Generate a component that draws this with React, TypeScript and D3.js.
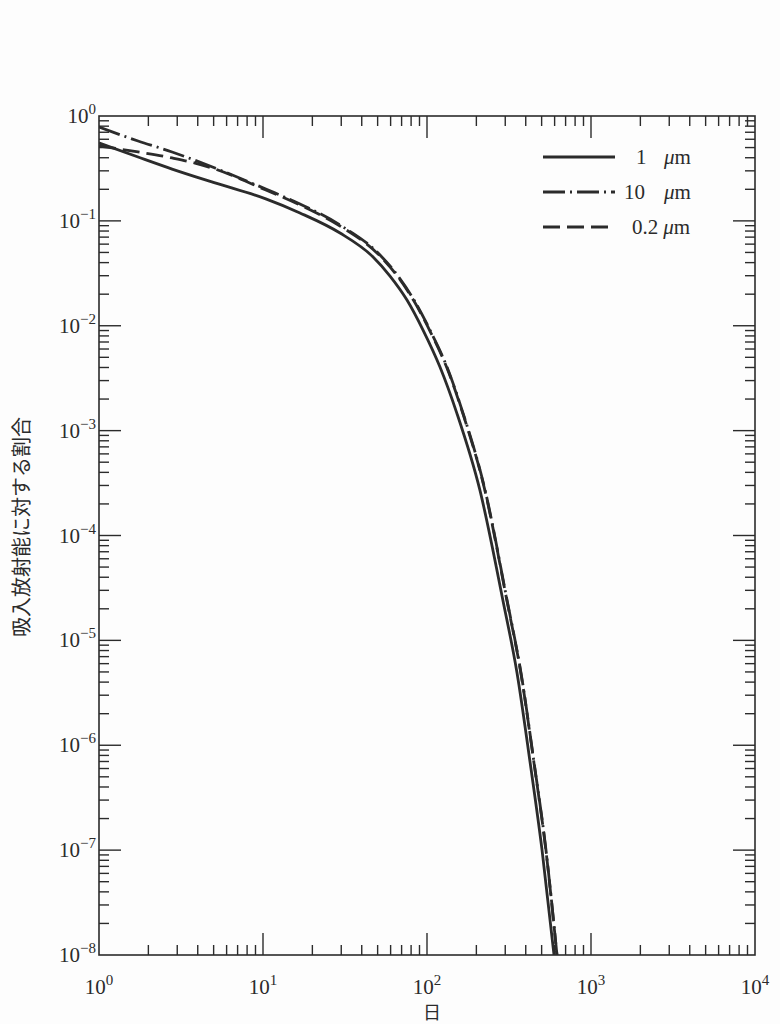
import React, { useRef, useEffect } from "react";
import * as d3 from "d3";

// days after inhalation vs fraction of inhaled activity
const days1um = [1, 1.73, 2.79, 5.1, 10.4, 16.8, 29.5, 46.9, 59.5, 75.5, 94.6, 120, 152, 210, 290, 354, 425, 503, 595];
const frac1um = [0.553, 0.406, 0.312, 0.23, 0.162, 0.119, 0.0766, 0.0453, 0.0298, 0.0176, 0.0091, 0.00404, 0.00147, 2.72e-4, 2.43e-5, 4.89e-6, 6.9e-7, 1.0e-7, 1e-8];

const days10um = [1, 1.73, 2.79, 5.1, 10.4, 16.8, 29.5, 51.7, 66.6, 83.3, 104.3, 132.4, 165.8, 225.8, 307.5, 374.3, 449.2, 531.6, 620];
const frac10um = [0.785, 0.578, 0.454, 0.319, 0.201, 0.145, 0.0913, 0.0473, 0.0298, 0.0176, 0.0091, 0.00404, 0.00147, 2.72e-4, 2.43e-5, 4.89e-6, 6.9e-7, 1.0e-7, 1e-8];

const days02um = [1, 1.73, 2.79, 3.85, 5.1, 10.4, 16.8, 29.5, 51.7, 66.6, 83.3, 104.3, 132.4, 165.8, 225.8, 307.5, 374.3, 449.2, 531.6, 620];
const frac02um = [0.518, 0.454, 0.398, 0.356, 0.312, 0.197, 0.1417, 0.0893, 0.0463, 0.0292, 0.0172, 0.0089, 0.00395, 0.00144, 2.66e-4, 2.37e-5, 4.78e-6, 6.76e-7, 9.8e-8, 1e-8];

const xDecades = [0, 1, 2, 3, 4];
const yDecades = [0, -1, -2, -3, -4, -5, -6, -7, -8];

const legendItems = [
  { num: "1", dash: "none" },
  { num: "10", dash: "22,5,2,5" },
  { num: "0.2", dash: "17,7" },
];

const INK = "#2b2b2b";
const SERIF = "'Liberation Serif', 'DejaVu Serif', serif";
const CJK = "'Noto Sans CJK JP', sans-serif";

const App = () => {
  const svgRef = useRef<SVGSVGElement>(null);

  useEffect(() => {
    if (!svgRef.current) return;
    const svg = d3.select(svgRef.current);
    svg.selectAll("*").remove();

    const left = 99, right = 755, top = 116, bottom = 955;

    const x = d3.scaleLog().domain([1, 1e4]).range([left, right]);
    const y = d3.scaleLog().domain([1e-8, 1]).range([bottom, top]);

    svg.append("rect").attr("width", 780).attr("height", 1024).attr("fill", "#fdfdfd");

    svg
      .append("clipPath")
      .attr("id", "plot-clip")
      .append("rect")
      .attr("x", left)
      .attr("y", top)
      .attr("width", right - left)
      .attr("height", bottom - top);

    // frame
    svg
      .append("rect")
      .attr("x", left)
      .attr("y", top)
      .attr("width", right - left)
      .attr("height", bottom - top)
      .attr("fill", "none")
      .attr("stroke", INK)
      .attr("stroke-width", 1.6);

    const ticks = svg.append("g").attr("stroke", INK).attr("stroke-width", 1.4);
    const major = 22, minor = 10;

    // x ticks, inward on bottom and top
    xDecades.forEach((e) => {
      for (let m = 1; m <= 9; m++) {
        if (e === 4 && m > 1) break;
        if ((e === 0 || e === 4) && m === 1) continue;
        const px = x(m * Math.pow(10, e));
        const len = m === 1 ? major : minor;
        ticks.append("line").attr("x1", px).attr("x2", px).attr("y1", bottom).attr("y2", bottom - len);
        ticks.append("line").attr("x1", px).attr("x2", px).attr("y1", top).attr("y2", top + len);
      }
    });

    // y ticks, inward on left and right
    yDecades.forEach((e) => {
      for (let m = 1; m <= 9; m++) {
        if (e === 0 && m > 1) break;
        if ((e === 0 || e === -8) && m === 1) continue;
        const py = y(m * Math.pow(10, e));
        const len = m === 1 ? major : minor;
        ticks.append("line").attr("x1", left).attr("x2", left + len).attr("y1", py).attr("y2", py);
        ticks.append("line").attr("x1", right).attr("x2", right - len).attr("y1", py).attr("y2", py);
      }
    });

    // tick labels 10^n
    const powLabel = (g: d3.Selection<SVGTextElement, unknown, null, undefined>, e: number) => {
      g.append("tspan").text("10");
      g.append("tspan")
        .attr("dy", -9)
        .attr("font-size", 15)
        .text(e < 0 ? `\u2212${-e}` : `${e}`);
    };

    xDecades.forEach((e) => {
      const t = svg
        .append("text")
        .attr("x", x(Math.pow(10, e)))
        .attr("y", 994)
        .attr("text-anchor", "middle")
        .attr("font-family", SERIF)
        .attr("font-size", 21)
        .attr("fill", INK);
      powLabel(t, e);
    });

    yDecades.forEach((e) => {
      const t = svg
        .append("text")
        .attr("x", 96)
        .attr("y", y(Math.pow(10, e)) + 7)
        .attr("text-anchor", "end")
        .attr("font-family", SERIF)
        .attr("font-size", 21)
        .attr("fill", INK);
      powLabel(t, e);
    });

    // axis titles
    svg
      .append("text")
      .attr("x", 432)
      .attr("y", 1019)
      .attr("text-anchor", "middle")
      .attr("font-family", CJK)
      .attr("font-size", 18)
      .attr("fill", INK)
      .text("日");

    svg
      .append("text")
      .attr("transform", "translate(29,527) rotate(-90)")
      .attr("text-anchor", "middle")
      .attr("font-family", CJK)
      .attr("font-size", 20)
      .attr("fill", INK)
      .text("吸入放射能に対する割合");

    // curves
    const line = d3
      .line<[number, number]>()
      .x((d) => x(d[0]))
      .y((d) => y(d[1]))
      .curve(d3.curveMonotoneX);

    const plot = svg.append("g").attr("clip-path", "url(#plot-clip)");
    const series = [
      { days: days02um, frac: frac02um, dash: "17,7" },
      { days: days10um, frac: frac10um, dash: "22,5,2,5" },
      { days: days1um, frac: frac1um, dash: "none" },
    ];
    series.forEach((s) => {
      plot
        .append("path")
        .datum(s.days.map((d, i) => [d, s.frac[i]] as [number, number]))
        .attr("d", line)
        .attr("fill", "none")
        .attr("stroke", INK)
        .attr("stroke-width", 2.8)
        .attr("stroke-dasharray", s.dash);
    });

    // legend
    legendItems.forEach((it, i) => {
      const ly = 157 + i * 35;
      svg
        .append("line")
        .attr("x1", 543)
        .attr("x2", 615)
        .attr("y1", ly)
        .attr("y2", ly)
        .attr("stroke", INK)
        .attr("stroke-width", 2.8)
        .attr("stroke-dasharray", it.dash);
      const t = svg
        .append("text")
        .attr("x", it.num === "1" ? 636 : it.num === "10" ? 624 : 632)
        .attr("y", ly + 7)
        .attr("font-family", SERIF)
        .attr("font-size", 21)
        .attr("fill", INK);
      t.append("tspan").text(it.num);
      const mu = t.append("tspan").attr("font-style", "italic").text("\u03bc");
      if (it.num === "0.2") mu.attr("dx", 5);
      else mu.attr("x", 664);
      t.append("tspan").text("m");
    });
  }, []);

  return (
    <div style={{ position: "absolute", left: 0, top: 0 }}>
      <svg ref={svgRef} width={780} height={1024} style={{ display: "block" }}></svg>
    </div>
  );
};

export default App;
